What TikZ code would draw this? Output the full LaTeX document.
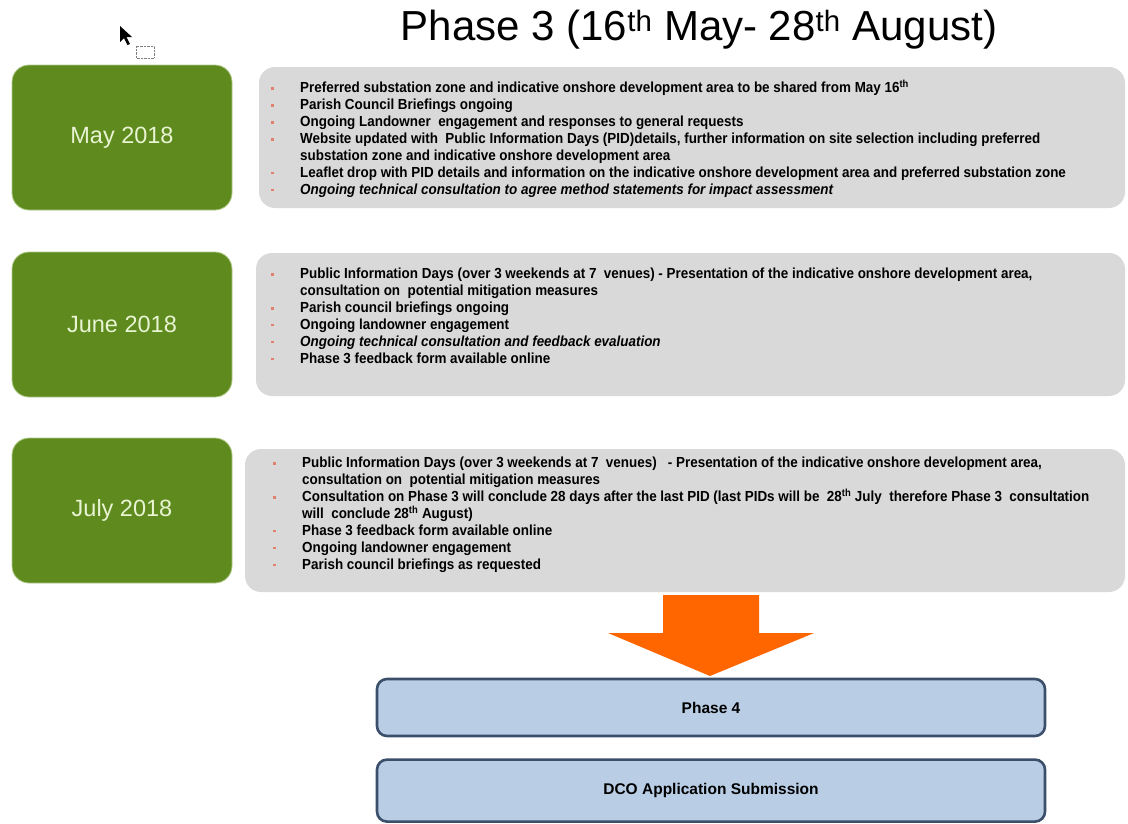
\documentclass[tikz,border=0pt]{standalone}
\usepackage{fontspec}
\setmainfont{Liberation Sans}
\newfontfamily\notefont[FakeStretch=0.92]{Liberation Sans}
\usetikzlibrary{positioning}

\definecolor{monthgreen}{RGB}{94,138,30}
\definecolor{monthtext}{RGB}{232,244,210}
\definecolor{notegray}{RGB}{217,217,217}
\definecolor{bulletred}{RGB}{226,128,110}
\definecolor{arroworange}{RGB}{255,102,0}
\definecolor{phasefill}{RGB}{185,205,229}
\definecolor{phaseedge}{RGB}{59,79,107}

\newcommand{\bul}{\raisebox{3pt}{\color{bulletred}\rule{2.6pt}{2.6pt}}}
\newcommand{\itm}[1]{\makebox[29pt][l]{\bul}#1}
\newcommand{\cnt}[1]{\hspace*{29pt}#1}

\tikzset{
    monthbox/.style={fill=monthgreen, draw=monthtext!60!monthgreen, line width=0.8pt,
        rounded corners=17pt, minimum width=220pt, minimum height=145pt,
        text=monthtext, font=\fontsize{23.5}{26}\selectfont},
    notebox/.style={fill=notegray, rounded corners=16pt},
    notetext/.style={anchor=north west, inner sep=0pt, align=left,
        font=\notefont\fontsize{14.6}{16.9}\selectfont\bfseries},
    phasebox/.style={fill=phasefill, draw=phaseedge, line width=2.6pt,
        rounded corners=10pt, minimum width=668pt,
        font=\fontsize{15.5}{17}\selectfont\bfseries}
}

\begin{document}
\begin{tikzpicture}[x=1pt, y=-1pt]
    \useasboundingbox (0,0) rectangle (1128,823);

    % Titre
    \node (title) at (699,30) {\fontsize{42}{44}\selectfont Phase 3 (16\textsuperscript{th} May- 28\textsuperscript{th} August)};

    % Curseur
    \fill (120,26) -- (120,42) -- (124,38) -- (127.5,45) -- (130,44) -- (126.5,37) -- (132,37) -- cycle;
    \draw[densely dotted, gray] (136,46) rectangle (154,58);

    % ---- Mois ----
    \foreach \i/\m/\y in {1/May 2018/137.5, 2/June 2018/324.5, 3/July 2018/510.5}{
        \node[monthbox] (month\i) at (122,\y) {\m};
    }

    % ---- Cadres gris ----
    \node[notebox, minimum width=866pt, minimum height=141pt] (note1) at (692,137.5) {};
    \node[notebox, minimum width=869pt, minimum height=143pt] (note2) at (690.5,324.5) {};
    \node[notebox, minimum width=880pt, minimum height=143pt] (note3) at (685,520.5) {};

    \node[notetext] (text1) at (271,80) {%
        \itm{Preferred substation zone and indicative onshore development area to be shared from May 16\textsuperscript{th}}\\
        \itm{Parish Council Briefings ongoing}\\
        \itm{Ongoing Landowner\ \ engagement and responses to general requests}\\
        \itm{Website updated with\ \ Public Information Days (PID)details, further information on site selection including preferred}\\
        \cnt{substation zone and indicative onshore development area}\\
        \itm{Leaflet drop with PID details and information on the indicative onshore development area and preferred substation zone}\\
        \itm{\itshape Ongoing technical consultation to agree method statements for impact assessment}};

    \node[notetext] (text2) at (271,268) {%
        \itm{Public Information Days (over 3 weekends at 7\ \ venues) - Presentation of the indicative onshore development area,}\\
        \cnt{consultation on\ \ potential mitigation measures}\\
        \itm{Parish council briefings ongoing}\\
        \itm{Ongoing landowner engagement}\\
        \itm{\itshape Ongoing technical consultation and feedback evaluation}\\
        \itm{Phase 3 feedback form available online}};

    \node[notetext] (text3) at (273,457) {%
        \itm{Public Information Days (over 3 weekends at 7\ \ venues)\ \ \ - Presentation of the indicative onshore development area,}\\
        \cnt{consultation on\ \ potential mitigation measures}\\
        \itm{Consultation on Phase 3 will conclude 28 days after the last PID (last PIDs will be\ \ 28\textsuperscript{th} July\ \ therefore Phase 3\ \ consultation}\\
        \cnt{will\ \ conclude 28\textsuperscript{th} August)}\\
        \itm{Phase 3 feedback form available online}\\
        \itm{Ongoing landowner engagement}\\
        \itm{Parish council briefings as requested}};

    % ---- Fleche ----
    \fill[arroworange] (663,595) -- (759,595) -- (759,633) -- (814,633) -- (710,676)
        -- (608,633) -- (663,633) -- cycle;

    % ---- Phase 4 ----
    \node[phasebox, minimum height=57pt] (phase4) at (711,707.5) {Phase 4};
    \node[phasebox, minimum height=62pt, below=21pt of phase4] (dco) {DCO Application Submission};
\end{tikzpicture}
\end{document}
